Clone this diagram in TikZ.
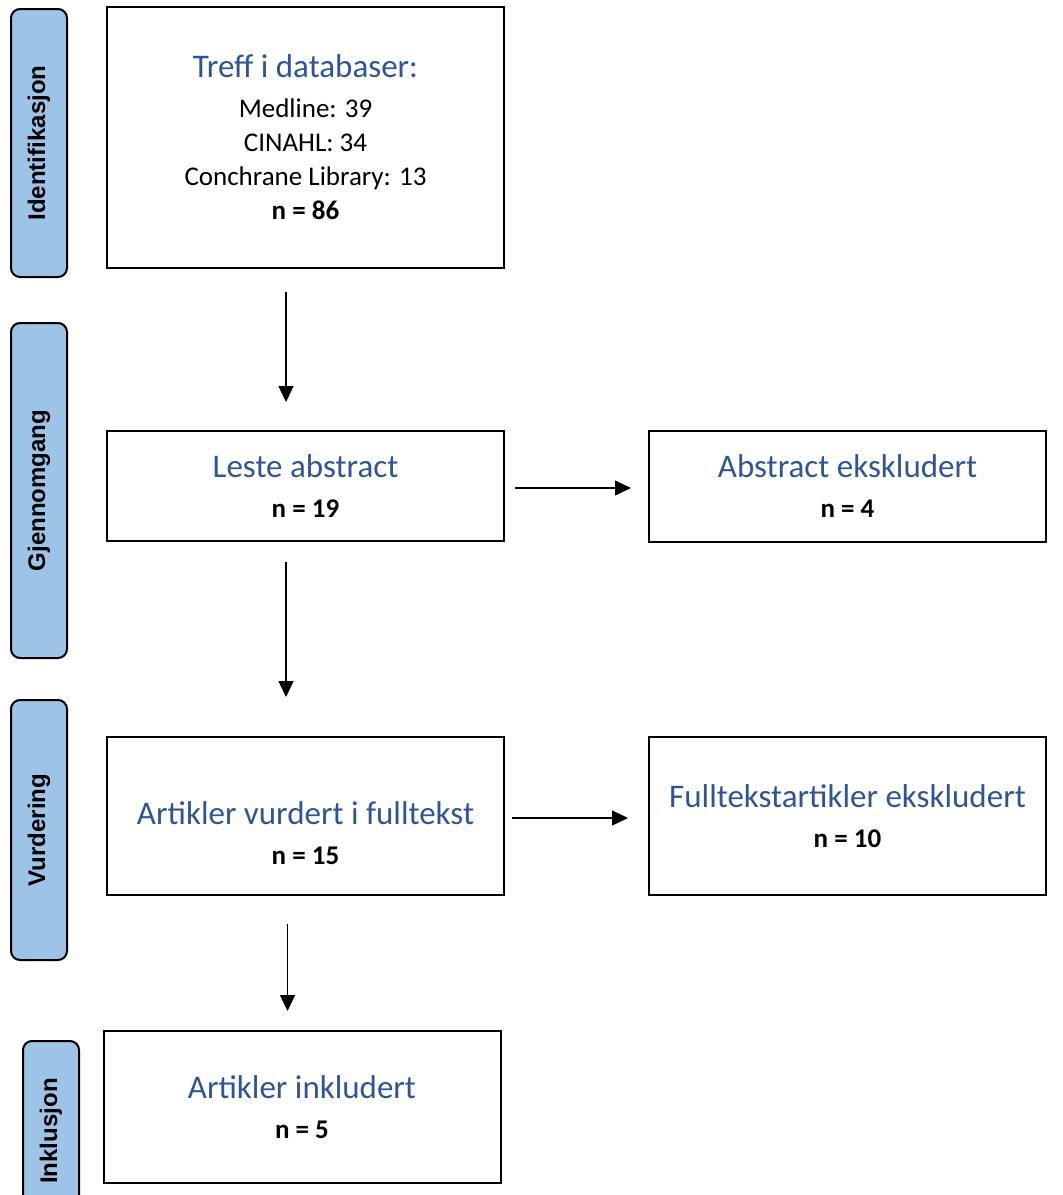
\documentclass[tikz,border=0pt]{standalone}
\usepackage{fontspec}
\setmainfont{Carlito}
\newfontfamily\sidefont{Liberation Sans}
\usepackage{xcolor}
\usepackage{tikz}
\usetikzlibrary{shapes,arrows.meta}
\usetikzlibrary{positioning}
\definecolor{phaseblue}{RGB}{157,195,230}
\definecolor{titleblue}{RGB}{47,85,151}
\tikzstyle{block} = [rectangle, draw, line width=2pt, minimum width=397pt,
    align=center, font=\fontsize{27}{34}\selectfont]
\tikzstyle{blocktext} = [align=center, font=\fontsize{27}{34}\selectfont]
\tikzstyle{phase} = [rectangle, draw, fill=phaseblue, rounded corners=9pt,
    line width=2pt, rotate=90, minimum height=56pt,
    font=\sidefont\bfseries\fontsize{24}{29}\selectfont]
\tikzstyle{line} = [draw, line width=1.3pt, -{Triangle[length=16pt,width=15pt]}]
\newcommand{\heading}[1]{{\color{titleblue}\fontsize{33}{40}\selectfont #1}}

\begin{document}
\begin{tikzpicture}[x=1pt, y=-1pt]
  \useasboundingbox (0,0) rectangle (1063,1195);
  % Place nodes

  \node [block, minimum height=261pt] (ident) at (305.5,137.5)
    {\heading{Treff i databaser:}\\[6pt] Medline: 39\\ CINAHL: 34\\
     Conchrane Library: 13\\ \textbf{n = 86}};
  \node [block, minimum height=110pt, below of=ident, node distance=348.5pt] (screen)
    {\heading{Leste abstract}\\[6pt] \textbf{n = 19}};
  \node [block, minimum height=111pt, right of=screen, node distance=542pt] (abex)
    {\heading{Abstract ekskludert}\\[6pt] \textbf{n = 4}};
  \node [block, minimum height=158pt, below of=screen, node distance=330pt] (full) {};
  \node [blocktext] (fulltxt) at ([yshift=-17pt]full.center)
    {\heading{Artikler vurdert i fulltekst}\\[6pt] \textbf{n = 15}};
  \node [block, minimum height=158pt, right of=full, node distance=542pt] (fullex)
    {\heading{Fulltekstartikler ekskludert}\\[6pt] \textbf{n = 10}};
  \node [block, minimum height=152pt, below of=full, node distance=291pt, xshift=-3.5pt] (incl)
    {\heading{Artikler inkludert}\\[6pt] \textbf{n = 5}};

  % Phases
  \node [phase, minimum width=268pt] (p1) at (39,143) {Identifikasjon};
  \node [phase, minimum width=335pt] (p2) at (39,490.5) {Gjennomgang};
  \node [phase, minimum width=260pt] (p3) at (39,830) {Vurdering};
  \node [phase, minimum width=180pt] (p4) at (51,1131) {Inklusjon};

  \path [line, shorten <=23pt, shorten >=28pt] ([xshift=-19.5pt]ident.south) -- ([xshift=-19.5pt]screen.north);
  \path [line, shorten <=10pt, shorten >=17pt] ([yshift=-2pt]screen.east) -- ([yshift=-2pt]screen.east -| abex.west);
  \path [line, shorten <=20pt, shorten >=39pt] ([xshift=-19.5pt]screen.south) -- ([xshift=-19.5pt]full.north);
  \path [line, shorten <=7pt, shorten >=20pt] ([yshift=-2pt]full.east) -- ([yshift=-2pt]full.east -| fullex.west);
  \path [line, shorten <=28pt, shorten >=19pt] ([xshift=-18pt]full.south) -- ([xshift=-14.5pt]incl.north);

\end{tikzpicture}
\end{document}
